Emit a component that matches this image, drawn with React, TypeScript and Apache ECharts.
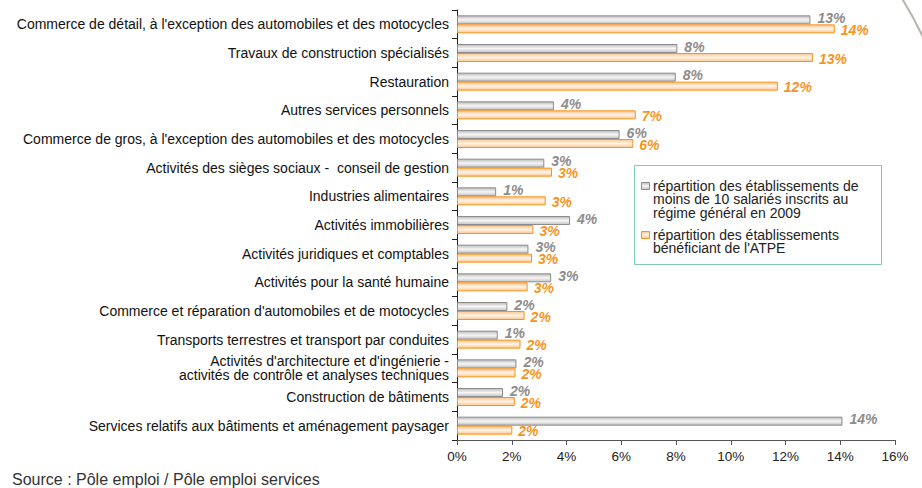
import React, { useEffect, useRef } from "react";
import * as echarts from "echarts";

const categories: string[] = [
  "Commerce de détail, à l'exception des automobiles et des motocycles",
  "Travaux de construction spécialisés",
  "Restauration",
  "Autres services personnels",
  "Commerce de gros, à l'exception des automobiles et des motocycles",
  "Activités des sièges sociaux -  conseil de gestion",
  "Industries alimentaires",
  "Activités immobilières",
  "Activités juridiques et comptables",
  "Activités pour la santé humaine",
  "Commerce et réparation d'automobiles et de motocycles",
  "Transports terrestres et transport par conduites",
  "Activités d'architecture et d'ingénierie -\nactivités de contrôle et analyses techniques",
  "Construction de bâtiments",
  "Services relatifs aux bâtiments et aménagement paysager",
];

const seriesGeneralName =
  "répartition des établissements de\nmoins de 10 salariés inscrits au\nrégime général en 2009";
const seriesAtpeName = "répartition des établissements\nbénéficiant de l'ATPE";

const generalValues: number[] = [
  12.91, 8.05, 7.99, 3.54, 5.94, 3.19, 1.43, 4.13, 2.61, 3.44, 1.84, 1.49, 2.17, 1.68, 14.08,
];
const atpeValues: number[] = [
  13.8, 13.0, 11.72, 6.53, 6.44, 3.47, 3.24, 2.79, 2.74, 2.58, 2.47, 2.32, 2.14, 2.11, 2.02,
];

const xTicks = { min: 0, max: 16, interval: 2 };
const sourceText = "Source : Pôle emploi / Pôle emploi services";

const FONT = "'Liberation Sans', Arial, Helvetica, sans-serif";
const GRAY = "#8e8b8b";
const ORANGE = "#f7941d";

const grayFill = new echarts.graphic.LinearGradient(0, 0, 0, 1, [
  { offset: 0, color: "#bdbaba" },
  { offset: 0.5, color: "#f6f6f6" },
  { offset: 1, color: "#c4c1c1" },
]);
const orangeFill = new echarts.graphic.LinearGradient(0, 0, 0, 1, [
  { offset: 0, color: "#fbc58c" },
  { offset: 0.5, color: "#fff4e8" },
  { offset: 1, color: "#fbc58c" },
]);

export default function App() {
  const ref = useRef<HTMLDivElement>(null);

  useEffect(() => {
    if (!ref.current) return;
    const chart = echarts.init(ref.current, null, { renderer: "svg" });
    const labelFmt = (p: any) => Math.round(p.value) + "%";
    chart.setOption({
      animation: false,
      backgroundColor: "#ffffff",
      textStyle: { fontFamily: FONT },
      grid: { left: 457, right: 27, top: 10, bottom: 48, containLabel: false },
      xAxis: {
        type: "value",
        min: xTicks.min,
        max: xTicks.max,
        interval: xTicks.interval,
        axisLine: { show: true, lineStyle: { color: "#555555", width: 1 } },
        axisTick: { show: true, length: 5, lineStyle: { color: "#555555" } },
        splitLine: { show: false },
        axisLabel: {
          formatter: "{value}%",
          color: "#222222",
          fontSize: 13.5,
          fontFamily: FONT,
          margin: 9,
        },
      },
      yAxis: {
        type: "category",
        inverse: true,
        data: categories,
        axisLine: { show: true, lineStyle: { color: "#222222", width: 1 } },
        axisTick: { show: true, length: 5, lineStyle: { color: "#222222" } },
        axisLabel: {
          color: "#111111",
          fontSize: 14,
          fontFamily: FONT,
          margin: 8,
          lineHeight: 14,
          align: "right",
        },
      },
      series: [
        {
          name: seriesGeneralName,
          type: "bar",
          data: generalValues,
          barWidth: 9,
          barGap: "0%",
          itemStyle: { color: grayFill, borderColor: GRAY, borderWidth: 1 },
          label: {
            show: true,
            position: "right",
            distance: 7,
            offset: [0, -2],
            formatter: labelFmt,
            color: GRAY,
            fontSize: 14,
            fontWeight: "bold",
            fontStyle: "italic",
            fontFamily: FONT,
          },
        },
        {
          name: seriesAtpeName,
          type: "bar",
          data: atpeValues,
          barWidth: 9,
          barGap: "0%",
          itemStyle: { color: orangeFill, borderColor: ORANGE, borderWidth: 1 },
          label: {
            show: true,
            position: "right",
            distance: 6,
            offset: [0, 1],
            formatter: labelFmt,
            color: ORANGE,
            fontSize: 14,
            fontWeight: "bold",
            fontStyle: "italic",
            fontFamily: FONT,
          },
        },
      ],
      graphic: [
        {
          type: "arc",
          silent: true,
          shape: { cx: 600, cy: 187, r: 356, startAngle: -0.62, endAngle: -0.4 },
          style: { stroke: "#b9b4af", lineWidth: 2, fill: "none" },
        },
        {
          type: "rect",
          shape: { x: 634.5, y: 165.5, width: 247, height: 99 },
          style: { fill: "#ffffff", stroke: "#7fcbb6", lineWidth: 1 },
          z: 10,
        },
        {
          type: "rect",
          shape: { x: 641.5, y: 182.5, width: 8, height: 7 },
          style: { fill: grayFill, stroke: GRAY, lineWidth: 1 },
          z: 11,
        },
        {
          type: "text",
          x: 653,
          y: 179,
          style: {
            text: seriesGeneralName,
            fontSize: 14,
            lineHeight: 13.5,
            fontFamily: FONT,
            fill: "#222222",
            textVerticalAlign: "top",
          },
          z: 11,
        },
        {
          type: "rect",
          shape: { x: 641.5, y: 231.5, width: 8, height: 7 },
          style: { fill: orangeFill, stroke: ORANGE, lineWidth: 1 },
          z: 11,
        },
        {
          type: "text",
          x: 653,
          y: 228,
          style: {
            text: seriesAtpeName,
            fontSize: 14,
            lineHeight: 13.5,
            fontFamily: FONT,
            fill: "#222222",
            textVerticalAlign: "top",
          },
          z: 11,
        },
        {
          type: "text",
          x: 12,
          y: 471,
          style: {
            text: sourceText,
            fontSize: 16,
            fontFamily: FONT,
            fill: "#333333",
            textVerticalAlign: "top",
          },
        },
      ],
    });
    return () => chart.dispose();
  }, []);

  return (
    <div
      ref={ref}
      style={{ position: "fixed", left: 0, top: 0, width: 922, height: 488, background: "#fff" }}
    />
  );
}
